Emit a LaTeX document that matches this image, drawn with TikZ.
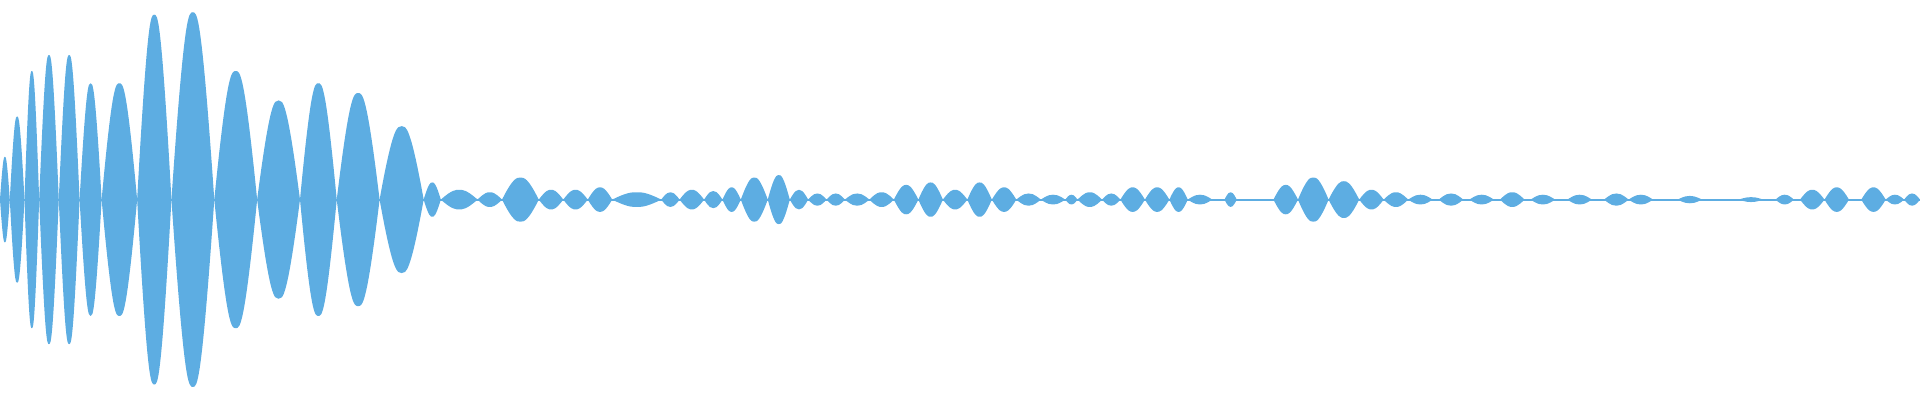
\documentclass[tikz,border=0pt]{standalone}
\definecolor{wave}{RGB}{93,173,226}
\begin{document}
\begin{tikzpicture}[x=0.012245cm,y=-0.012245cm]
\useasboundingbox (0,0) rectangle (1568,326.7);
\begin{scope}[yshift=-163*0.012245cm]
\fill[wave] (0,-0.8) rectangle (1568,0.8);
\foreach \a/\b/\h in {0/8/35,8/20/68,20/32/105,32/48/118,48/65/118,65/83/95,83/112/95,112/140/151,140/175/153,175/210/105,210/245/81,245/275/95,275/310/87,310/346/60,
346/360/14,360/390/8,390/410/6,410/440/18,440/460/8,460/480/8,480/500/10,500/540/6,540/555/6,555/575/8,575/590/7,590/605/10,605/627/18,627/645/20,645/660/8,660/675/5,675/690/5,690/710/5,710/730/6,730/750/12,750/770/14,770/790/8,790/810/14,810/830/10,830/850/5,850/870/4,870/880/4,880/900/6,900/915/5,915/935/10,935/955/10,955/970/10,970/990/4,1000/1010/6,1040/1060/12,1060/1085/18,1085/1110/15,1110/1130/8,1130/1150/6,1150/1170/4,1175/1195/5,1200/1220/4,1225/1245/6,1250/1270/4,1280/1300/4,1310/1330/5,1330/1350/4,1370/1390/3,1420/1440/2,1450/1465/4,1470/1490/8,1490/1510/10,1520/1540/10,1540/1555/4,1555/1568/5}{
\pgfmathsetmacro{\m}{(\a+\b)/2}
\pgfmathsetmacro{\w}{\b-\a}
\fill[wave] (\a,0) .. controls ({\a+0.3*\w},-\h) and ({\m-0.1*\w},-\h) .. (\m,-\h)
 .. controls ({\m+0.1*\w},-\h) and ({\b-0.3*\w},-\h) .. (\b,0)
 .. controls ({\b-0.3*\w},\h) and ({\m+0.1*\w},\h) .. (\m,\h)
 .. controls ({\m-0.1*\w},\h) and ({\a+0.3*\w},\h) .. (\a,0) -- cycle;
}
\end{scope}
\end{tikzpicture}
\end{document}
